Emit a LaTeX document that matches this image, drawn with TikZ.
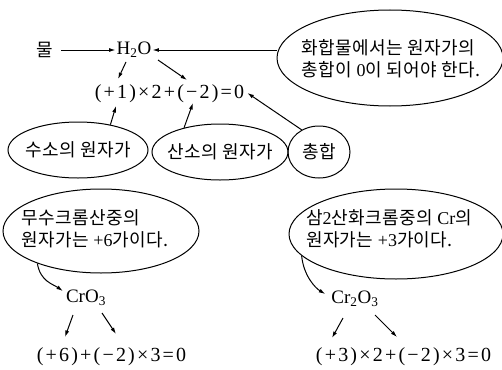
\documentclass[tikz,border=0pt]{standalone}
\usepackage{fontspec}
\setmainfont{Liberation Serif}
\newfontfamily\kr[LetterSpace=2]{Noto Sans CJK KR}
\newfontfamily\eqfont[LetterSpace=11]{Liberation Serif}
\newcommand{\lat}[1]{{\rmfamily #1}}
\usepackage{tikz}
\usetikzlibrary{arrows.meta,shapes.geometric,calc}

\tikzset{
    arr/.style={-{Latex[length=6.5pt,width=4pt]}, line width=1pt},
    bubble/.style={draw, ellipse, line width=1pt, inner sep=0pt},
    kor/.style={font=\kr\fontsize{18}{22}\selectfont, inner sep=1pt},
    chem/.style={font=\fontsize{19}{21}\selectfont, inner sep=1pt},
    eqn/.style={font=\eqfont\fontsize{20}{22}\selectfont, inner sep=1pt}
}

\begin{document}
\begin{tikzpicture}[x=1pt, y=-1pt]
    \useasboundingbox (0,0) rectangle (502,369);

    % water and its rule
    \node[kor] (water) at (45,50) {물};
    \node[chem] (h2o) at (134,50) {H\textsubscript{2}O};
    \node[bubble, minimum width=226pt, minimum height=96pt] (rule) at (390,58) {};
    \node[kor, align=left] (ruletxt) at (391,59) {화합물에서는 원자가의\\총합이 \lat{0}이 되어야 한다.};
    \node[eqn] (eq1) at (169.5,94) {(+1)×2+(−2)=0};

    \node[bubble, minimum width=140pt, minimum height=56pt] (hyd) at (78,150) {};
    \node[kor] (hydtxt) at (hyd.center) {수소의 원자가};
    \node[bubble, minimum width=136pt, minimum height=56pt] (oxy) at (220,152) {};
    \node[kor] (oxytxt) at (oxy.center) {산소의 원자가};
    \node[bubble, minimum width=62pt, minimum height=52pt] (tot) at (319,152) {};
    \node[kor] (tottxt) at (tot.center) {총합};

    \draw[arr, shorten <=7pt] (water) -- (h2o);
    \draw[arr] (rule.west |- h2o.east) -- (h2o.east);
    \draw[arr] ($(h2o.center)+(-8,12)$) -- ($(eq1.center)+(-51.5,-15)$);
    \draw[arr] ($(h2o.center)+(24,10)$) -- ($(eq1.center)+(17.5,-14)$);
    \draw[arr] (hyd.38) -- ($(eq1.center)+(-53.5,12)$);
    \draw[arr] (oxy.146) -- ($(eq1.center)+(23.5,9)$);
    \draw[arr] (tot.128) -- ($(eq1.east)+(2,-1)$);

    % chromium oxides
    \node[bubble, minimum width=196pt, minimum height=84pt] (crl) at (101,231) {};
    \node[kor, align=left] (crltxt) at (95,229) {무수크롬산중의\\원자가는 \lat{+6}가이다.};
    \node[bubble, minimum width=214pt, minimum height=90pt] (crr) at (396,234) {};
    \node[kor, align=left] (crrtxt) at (389,229) {삼\lat{2}산화크롬중의 \lat{Cr}의\\원자가는 \lat{+3}가이다.};

    \node[chem] (cro) at (86,298) {CrO\textsubscript{3}};
    \node[chem] (cr2) at (355,299) {Cr\textsubscript{2}O\textsubscript{3}};
    \node[eqn] (eq2) at (111.5,357) {(+6)+(−2)×3=0};
    \node[eqn] (eq3) at (403.5,357) {(+3)×2+(−2)×3=0};

    \draw[arr] (crl.207) .. controls +(3,18) and +(-10,-7) .. ($(cro.west)+(-2,-7)$);
    \draw[arr] (crr.193) .. controls +(2,20) and +(-10,-6) .. ($(cr2.west)+(-5,-5)$);
    \draw[arr] ($(cro.center)+(-13,17)$) -- ($(eq2.center)+(-46.5,-20)$);
    \draw[arr] ($(cro.center)+(16,15)$) -- ($(eq2.center)+(4.5,-23)$);
    \draw[arr] ($(cr2.center)+(-12,19)$) -- ($(eq3.center)+(-71.5,-19)$);
    \draw[arr] ($(cr2.center)+(20,16)$) -- ($(eq3.center)+(-6.5,-20)$);
\end{tikzpicture}
\end{document}
